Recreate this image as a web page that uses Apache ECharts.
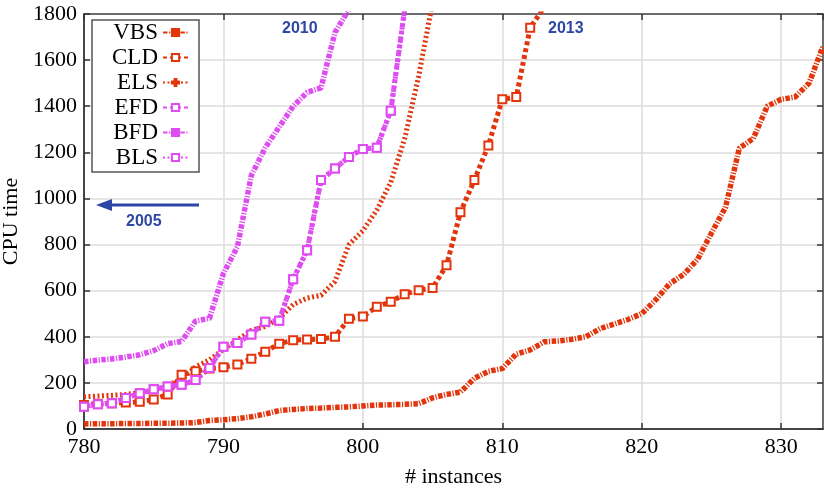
<!DOCTYPE html>
<html>
<head>
<meta charset="utf-8">
<script src="https://cdn.jsdelivr.net/npm/echarts@6/dist/echarts.min.js"></script>
<style>html,body{margin:0;padding:0;background:#fff}#c{width:824px;height:491px}</style>
</head>
<body>
<div id="c"></div>
<script>
const xStart = 780;
const xTicks = [780, 790, 800, 810, 820, 830];
const yTicks = [0, 200, 400, 600, 800, 1000, 1200, 1400, 1600, 1800];
const seriesNames = ['VBS', 'CLD', 'ELS', 'EFD', 'BFD', 'BLS'];
const VBS = [22, 23, 23, 24, 24, 25, 25, 26, 28, 37, 40, 45, 53, 65, 80, 85, 89, 91, 94, 96, 100, 104, 105, 107, 110, 135, 150, 160, 220, 250, 262, 325, 343, 378, 382, 389, 400, 435, 455, 475, 500, 560, 630, 670, 735, 850, 960, 1218, 1260, 1400, 1430, 1440, 1500, 1660];
const CLD = [104, 110, 112, 115, 118, 128, 150, 235, 250, 262, 268, 280, 305, 335, 370, 385, 388, 390, 400, 478, 488, 530, 552, 585, 602, 612, 710, 940, 1080, 1230, 1430, 1440, 1740, 1830];
const ELS = [140, 143, 146, 150, 158, 165, 190, 215, 270, 300, 345, 386, 428, 444, 480, 540, 568, 580, 640, 800, 860, 950, 1070, 1260, 1530, 1850];
const EFD = [97, 107, 112, 134, 155, 172, 184, 192, 212, 265, 357, 373, 410, 465, 470, 650, 775, 1080, 1130, 1180, 1215, 1220, 1380, 1820];
const BFD = [292, 299, 304, 312, 322, 340, 370, 380, 468, 480, 675, 790, 1100, 1220, 1310, 1400, 1460, 1480, 1720, 1820];
const BLS = [97, 107, 112, 134, 155, 172, 184, 192, 212, 265, 357, 373, 410, 465, 470, 650, 775, 1080, 1130, 1180, 1215, 1220, 1380, 1820];
const annotations = ['2010', '2013', '2005'];

const RED = '#e3350c';
const MAG = '#df4cf2';
const BLUE = '#2c47a6';
const SERIF = '"Liberation Serif", "Times New Roman", serif';
const PLUS = 'path://M3,0H5V3H8V5H5V8H3V5H0V3H3Z';

function pts(arr) { return arr.map((v, i) => [xStart + i, v]); }

const styles = {
  VBS: { color: RED, dash: [4.5, 1.5, 1.2, 1.5], width: 5.5, symbol: 'rect', show: false },
  CLD: { color: RED, dash: [4, 3], width: 5, symbol: 'emptyRect', show: true },
  ELS: { color: RED, dash: [2, 2.5], width: 5, symbol: PLUS, show: false },
  EFD: { color: MAG, dash: [4, 3], width: 5, symbol: 'emptyRect', show: true },
  BFD: { color: MAG, dash: [4.5, 1.5, 1.2, 1.5], width: 5.5, symbol: 'rect', show: false },
  BLS: { color: MAG, dash: [2, 2.5], width: 5, symbol: 'emptyRect', show: true }
};
const dataMap = { VBS, CLD, ELS, EFD, BFD, BLS };

const chart = echarts.init(document.getElementById('c'), null, { renderer: 'canvas' });

const series = seriesNames.map(n => {
  const s = styles[n];
  return {
    name: n,
    type: 'line',
    data: pts(dataMap[n]),
    xAxisIndex: 0,
    yAxisIndex: 0,
    symbol: s.symbol,
    symbolSize: 8,
    showSymbol: s.show,
    itemStyle: { color: s.color, borderColor: s.color, borderWidth: 1.5 },
    lineStyle: { color: s.color, width: s.width, type: s.dash, cap: 'butt' },
    emphasis: { disabled: true },
    animation: false,
    clip: true,
    z: 3
  };
});

const axisLabelFont = { fontFamily: SERIF, fontSize: 22, color: '#000' };

chart.setOption({
  animation: false,
  backgroundColor: '#fff',
  grid: { left: 84, right: 1, top: 14, bottom: 62, show: false, containLabel: false, outerBoundsMode: 'none' },
  legend: {
    orient: 'vertical',
    left: 92,
    top: 20,
    align: 'right',
    data: seriesNames,
    itemWidth: 25,
    itemHeight: 9,
    itemGap: 0,
    padding: [0, 10, 2, 20],
    borderColor: '#555',
    borderWidth: 1.5,
    backgroundColor: '#fff',
    textStyle: { fontFamily: SERIF, fontSize: 23, lineHeight: 25, color: '#000' },
    selectedMode: false,
    z: 10
  },
  xAxis: [
    {
      type: 'value', min: 780, max: 833, interval: 10, position: 'bottom',
      name: '# instances', nameLocation: 'middle', nameGap: 37,
      nameTextStyle: { fontFamily: SERIF, fontSize: 22, color: '#000' },
      axisLine: { show: true, onZero: false, lineStyle: { color: '#111', width: 1.5 } },
      axisTick: { show: true, inside: true, length: 6, lineStyle: { color: '#333', width: 1.5 } },
      axisLabel: Object.assign({ margin: 7, showMaxLabel: false, formatter: v => String(v) }, axisLabelFont),
      splitLine: { show: true, lineStyle: { color: '#dcdcdc', width: 1.5 } }
    },
    {
      type: 'value', min: 780, max: 833, interval: 10, position: 'top',
      axisLine: { show: true, onZero: false, lineStyle: { color: '#444', width: 1.5 } },
      axisTick: { show: true, inside: true, length: 6, lineStyle: { color: '#333', width: 1.5 } },
      axisLabel: { show: false },
      splitLine: { show: false }
    }
  ],
  yAxis: [
    {
      type: 'value', min: 0, max: 1800, interval: 200, position: 'left',
      name: 'CPU time', nameLocation: 'middle', nameGap: 60,
      nameTextStyle: { fontFamily: SERIF, fontSize: 22, color: '#000' },
      axisLine: { show: true, onZero: false, lineStyle: { color: '#111', width: 1.5 } },
      axisTick: { show: true, inside: true, length: 6, lineStyle: { color: '#333', width: 1.5 } },
      axisLabel: Object.assign({ margin: 7, formatter: v => String(v) }, axisLabelFont),
      splitLine: { show: true, lineStyle: { color: '#dcdcdc', width: 1.5 } }
    },
    {
      type: 'value', min: 0, max: 1800, interval: 200, position: 'right',
      axisLine: { show: true, onZero: false, lineStyle: { color: '#444', width: 1.5 } },
      axisTick: { show: true, inside: true, length: 6, lineStyle: { color: '#333', width: 1.5 } },
      axisLabel: { show: false },
      splitLine: { show: false }
    }
  ],
  series: series,
  graphic: [
    { type: 'text', left: 282, top: 21, z: 20, style: { text: annotations[0], fill: BLUE, font: 'bold 16px "Liberation Sans", Arial, sans-serif' } },
    { type: 'text', left: 548, top: 21, z: 20, style: { text: annotations[1], fill: BLUE, font: 'bold 16px "Liberation Sans", Arial, sans-serif' } },
    { type: 'text', left: 126, top: 214, z: 20, style: { text: annotations[2], fill: BLUE, font: 'bold 16px "Liberation Sans", Arial, sans-serif' } },
    { type: 'line', z: 20, shape: { x1: 199, y1: 205, x2: 108, y2: 205 }, style: { stroke: BLUE, lineWidth: 3 } },
    { type: 'polygon', z: 20, shape: { points: [[96, 205], [112, 199], [112, 211]] }, style: { fill: BLUE } }
  ]
});
</script>
</body>
</html>
